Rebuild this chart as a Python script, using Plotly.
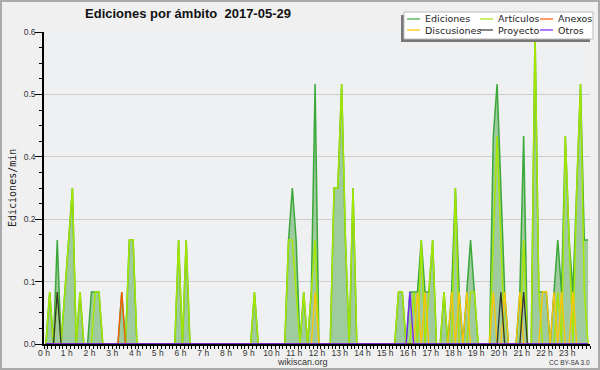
import plotly.graph_objects as go

# ---------------- data (10-minute bins, edits per minute) ----------------
HOUR_LABELS = [f"{h} h" for h in range(24)]
SERIES_NAMES = ["Ediciones", "Artículos", "Anexos", "Discusiones", "Proyecto", "Otros"]

EDICIONES = [
    0, .1, 0, .2, 0, .1, .2, .3, 0, .1, 0, 0,
    .1, .1, .1, 0, 0, 0, 0, 0, .1, 0, .2, .2,
    0, 0, 0, 0, 0, 0, 0, 0, 0, 0, 0, .2,
    0, .2, 0, 0, 0, 0, 0, 0, 0, 0, 0, 0,
    0, 0, 0, 0, 0, 0, 0, .1, 0, 0, 0, 0,
    0, 0, 0, 0, .2, .3, .2, 0, .1, 0, .1, .5,
    0, 0, 0, 0, .3, .3, .5, .2, 0, .3, 0, 0,
    0, 0, 0, 0, 0, 0, 0, 0, 0, .1, .1, 0,
    .1, .1, .1, .2, .1, .1, .2, 0, 0, .1, 0, .1,
    .3, .1, 0, .1, .2, .1, 0, 0, 0, 0, .4, .5,
    .3, .1, 0, 0, 0, .1, .4, 0, 0, .6, .1, .1,
    .1, 0, .1, .2, .1, .4, .2, .1, .3, .5, .2, .2,
]
ARTICULOS = [
    0, .1, 0, .1, 0, .1, .2, .3, 0, .1, 0, 0,
    0, .1, .1, 0, 0, 0, 0, 0, 0, 0, .2, .2,
    0, 0, 0, 0, 0, 0, 0, 0, 0, 0, 0, .2,
    0, .2, 0, 0, 0, 0, 0, 0, 0, 0, 0, 0,
    0, 0, 0, 0, 0, 0, 0, .1, 0, 0, 0, 0,
    0, 0, 0, 0, .2, .2, .1, 0, .1, 0, .1, .2,
    0, 0, 0, 0, .3, .3, .5, .2, 0, .3, 0, 0,
    0, 0, 0, 0, 0, 0, 0, 0, 0, .1, .1, 0,
    0, .1, 0, .2, 0, .1, .2, 0, 0, .1, 0, 0,
    .3, 0, 0, 0, .1, .1, 0, 0, 0, 0, .2, .4,
    .2, 0, 0, 0, 0, 0, .2, 0, 0, .6, .1, 0,
    0, 0, 0, .1, 0, .4, .2, 0, .3, .5, .1, 0,
]
ANEXOS = [
    0, 0, 0, 0, 0, 0, 0, 0, 0, 0, 0, 0,
    0, 0, 0, 0, 0, 0, 0, 0, .1, 0, 0, 0,
] + [0] * 120
DISCUSIONES = [0] * 60 + [
    0, 0, 0, 0, 0, 0, 0, 0, 0, 0, 0, .1,
    0, 0, 0, 0, 0, 0, 0, 0, 0, 0, 0, 0,
    0, 0, 0, 0, 0, 0, 0, 0, 0, 0, 0, 0,
    0, 0, .1, 0, .1, 0, 0, 0, 0, 0, 0, .1,
    0, .1, 0, .1, 0, 0, 0, 0, 0, 0, .1, 0,
    0, .1, 0, 0, 0, .1, 0, 0, 0, 0, 0, .1,
    .1, 0, .1, 0, .1, 0, 0, .1, 0, 0, 0, 0,
]
PROYECTO = [0, 0, 0, .1, 0, 0, 0, 0, 0, 0, 0, 0] + [0] * 108 + [
    .1, 0, 0, 0, 0, 0, .1, 0, 0, 0, 0, 0,
] + [0] * 12
OTROS = [0] * 96 + [.1] + [0] * 47

COLORS = {
    "Ediciones": "#3aa83a",
    "Artículos": "#a5e600",
    "Anexos": "#ff5a00",
    "Discusiones": "#ffc400",
    "Proyecto": "#333333",
    "Otros": "#7a1fff",
}
FILL_EDICIONES = "#9fcb9f"

# ---------------- figure ----------------
W, H = 600, 370
ML, MR, MT, MB = 44, 10, 32, 26
PW, PH = W - ML - MR, H - MT - MB


def px_x(p):
    return (p - ML) / PW


def px_y(p):
    return (MT + PH - p) / PH


x = [(i + 0.5) / 6 for i in range(len(EDICIONES))]

fig = go.Figure()
fig.add_trace(go.Scatter(
    x=x, y=EDICIONES, name="Ediciones", mode="lines",
    line=dict(color=COLORS["Ediciones"], width=1.5),
    fill="tozeroy", fillcolor=FILL_EDICIONES, showlegend=False))
fig.add_trace(go.Scatter(
    x=x, y=ARTICULOS, name="Artículos", mode="lines",
    line=dict(color=COLORS["Artículos"], width=1.5), showlegend=False))
for name, vals in [("Discusiones", DISCUSIONES), ("Anexos", ANEXOS),
                   ("Proyecto", PROYECTO), ("Otros", OTROS)]:
    fig.add_trace(go.Scatter(
        x=x, y=vals, name=name, mode="lines",
        line=dict(color=COLORS[name], width=1.3), showlegend=False))

tick_font = dict(family="Liberation Sans, Arial, sans-serif", size=8.5, color="#333333")

fig.update_layout(
    width=W, height=H,
    margin=dict(l=ML, r=MR, t=MT, b=MB, autoexpand=False),
    paper_bgcolor="#f0f0f0", plot_bgcolor="#eff0f1",
    showlegend=False,
    title=dict(
        text="<b>Ediciones por ámbito\u00a0 2017-05-29</b>",
        font=dict(family="Liberation Sans, Arial, sans-serif", size=13, color="#111111"),
        x=188 / W, xanchor="center", xref="container",
        y=1 - 13.5 / H, yanchor="middle", yref="container"),
    xaxis=dict(
        range=[0, 24], tickmode="array", tickvals=list(range(24)), ticktext=HOUR_LABELS,
        ticks="outside", ticklen=3, tickwidth=1, tickcolor="black",
        ticklabelstandoff=-3,
        showline=True, linecolor="black", linewidth=1.5, showgrid=False, zeroline=False,
        tickfont=tick_font,
        minor=dict(tick0=0, dtick=1 / 6, ticks="outside", ticklen=3, tickwidth=1,
                   tickcolor="black", showgrid=False)),
    yaxis=dict(
        range=[0, 0.6], tickmode="linear", tick0=0, dtick=0.12, tickformat=".1f",
        ticks="outside", ticklen=7, tickwidth=1, tickcolor="black",
        ticklabelstandoff=-2,
        showline=True, linecolor="black", linewidth=1.5,
        showgrid=True, gridcolor="#cccccc", gridwidth=1, zeroline=False,
        tickfont=tick_font,
        minor=dict(tick0=0, dtick=0.03, ticks="outside", ticklen=3, tickwidth=1,
                   tickcolor="black", showgrid=False)),
)

annotations = [
    dict(text="Ediciones/min", x=px_x(12), y=0.5, xref="paper", yref="paper",
         xanchor="center", yanchor="middle", textangle=-90, showarrow=False,
         font=dict(family="DejaVu Sans Mono, monospace", size=10, color="#222222")),
    dict(text="wikiscan.org", x=px_x(302), y=px_y(362), xref="paper", yref="paper",
         xanchor="center", yanchor="middle", showarrow=False,
         font=dict(family="Liberation Sans, Arial, sans-serif", size=9, color="#333333")),
    dict(text="CC BY-SA 3.0", x=px_x(569), y=px_y(362.5), xref="paper", yref="paper",
         xanchor="center", yanchor="middle", showarrow=False,
         font=dict(family="Liberation Sans, Arial, sans-serif", size=6.5, color="#333333")),
]

shapes = [
    # outer frame
    dict(type="rect", xref="paper", yref="paper", x0=px_x(1), x1=px_x(599), y0=px_y(1), y1=px_y(369),
         line=dict(color="#aaaaaa", width=2), fillcolor="rgba(0,0,0,0)", layer="above"),
    # legend shadow and box
    dict(type="rect", xref="paper", yref="paper", x0=px_x(401), x1=px_x(590), y0=px_y(15), y1=px_y(42),
         line=dict(width=0), fillcolor="#777777", layer="above"),
    dict(type="rect", xref="paper", yref="paper", x0=px_x(404), x1=px_x(593), y0=px_y(12), y1=px_y(39),
         line=dict(color="#bbbbbb", width=1), fillcolor="#ffffff", layer="above"),
]

legend_layout = [
    ("Ediciones", 407, 19), ("Artículos", 480, 19), ("Anexos", 540, 19),
    ("Discusiones", 407, 30), ("Proyecto", 480, 30), ("Otros", 540, 30),
]
for name, lx, ly in legend_layout:
    shapes.append(dict(type="line", xref="paper", yref="paper",
                       x0=px_x(lx), x1=px_x(lx + 13), y0=px_y(ly), y1=px_y(ly),
                       line=dict(color=COLORS[name], width=1.2), layer="above"))
    annotations.append(dict(text=name, x=px_x(lx + 16), y=px_y(ly), xref="paper", yref="paper",
                            xanchor="left", yanchor="middle", showarrow=False,
                            font=dict(family="DejaVu Sans, sans-serif", size=9.5, color="#222222")))

fig.update_layout(shapes=shapes, annotations=annotations)
fig.write_html("out.html", config={"displayModeBar": False},
               post_script="document.body.style.margin='0';document.body.style.overflow='hidden';")
